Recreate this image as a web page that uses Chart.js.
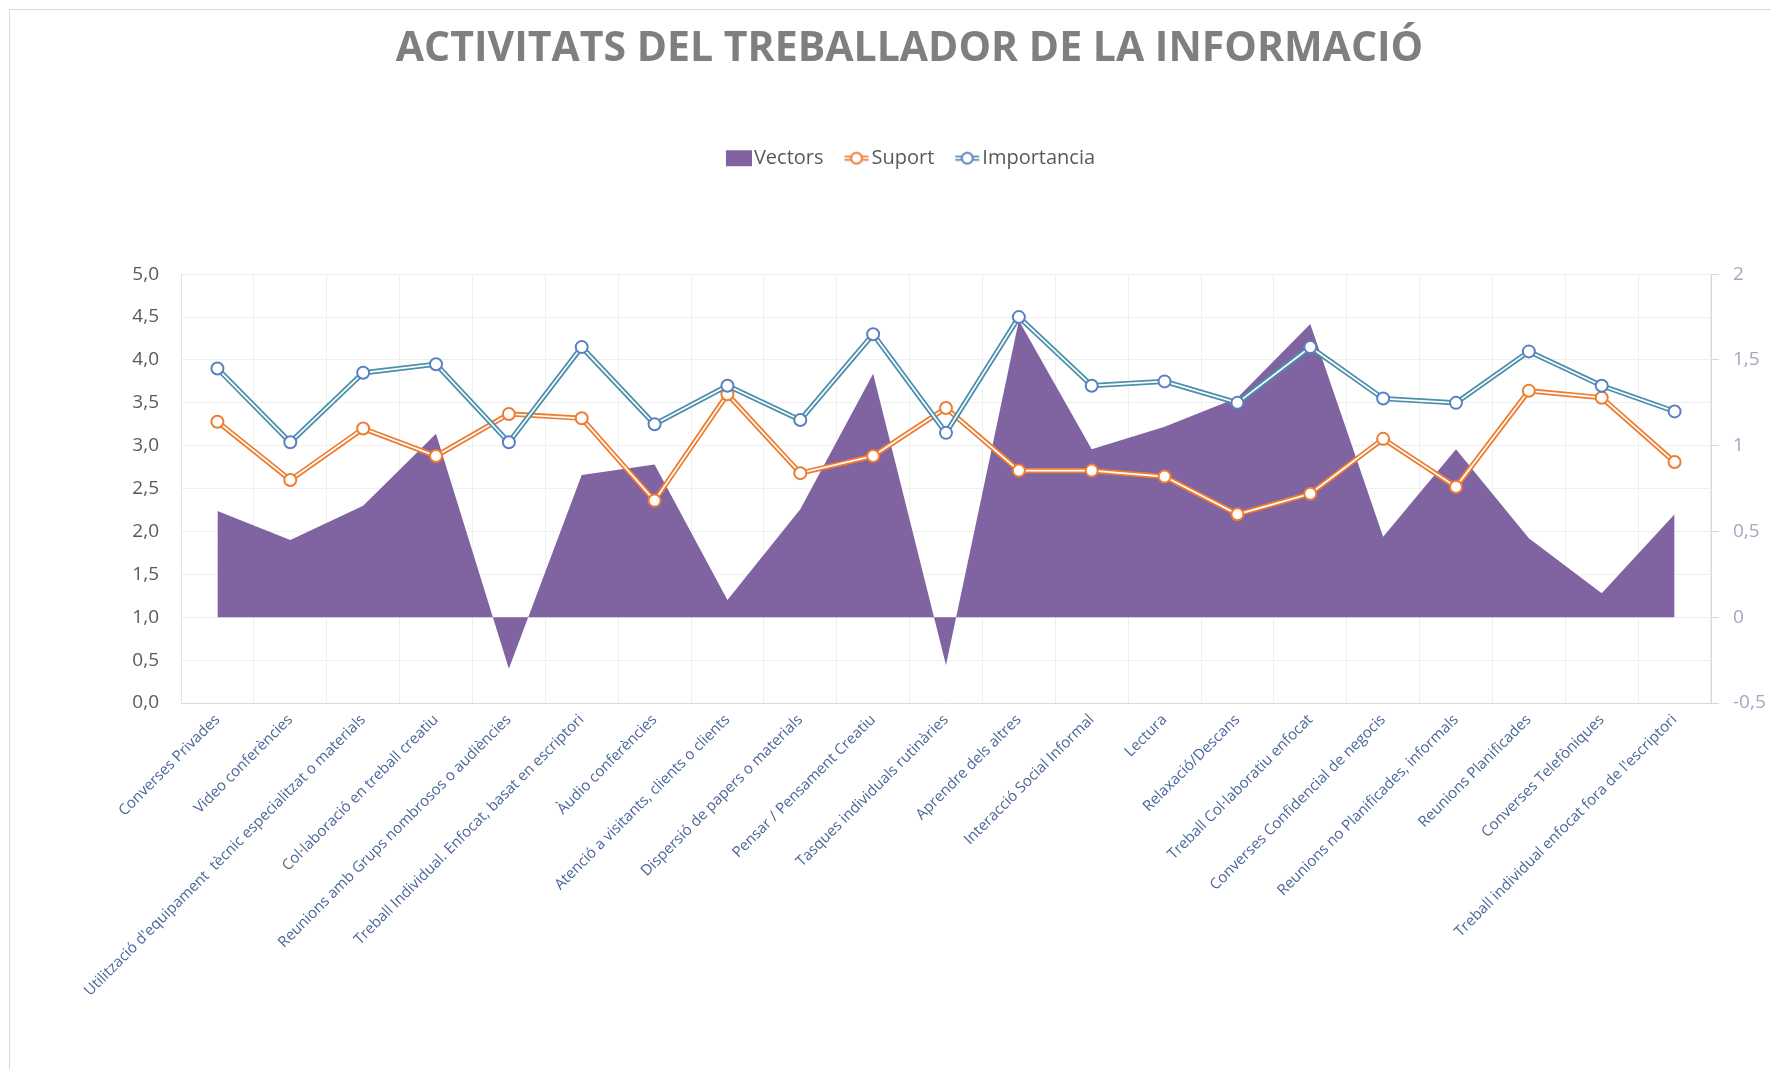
<!DOCTYPE html>
<html>
<head>
<meta charset="utf-8">
<script src="https://cdn.jsdelivr.net/npm/chart.js@4/dist/chart.umd.min.js"></script>
<style>
html,body{margin:0;padding:0;background:#fff;}
#wrap{width:1771px;height:1069px;position:relative;}
</style>
</head>
<body>
<div id="wrap"><canvas id="c" width="1771" height="1069"></canvas></div>
<script>
const categories = [
  "Converses Privades",
  "Video conferències",
  "Utilització d'equipament  tècnic especialitzat o materials",
  "Col·laboració en treball creatiu",
  "Reunions amb Grups nombrosos o audiències",
  "Treball Individual. Enfocat, basat en escriptori",
  "Àudio conferències",
  "Atenció a visitants, clients o clients",
  "Dispersió de papers o materials",
  "Pensar / Pensament Creatiu",
  "Tasques individuals rutinàries",
  "Aprendre dels altres",
  "Interacció Social Informal",
  "Lectura",
  "Relaxació/Descans",
  "Treball Col·laboratiu enfocat",
  "Converses Confidencial de negocis",
  "Reunions no Planificades, informals",
  "Reunions Planificades",
  "Converses Telefòniques",
  "Treball individual enfocat fora de l'escriptori"
];
const vectors = [0.62, 0.45, 0.65, 1.07, -0.30, 0.83, 0.89, 0.10, 0.63, 1.42, -0.28, 1.73, 0.98, 1.11, 1.28, 1.71, 0.47, 0.98, 0.46, 0.14, 0.60];
const suport = [3.28, 2.60, 3.20, 2.88, 3.37, 3.32, 2.36, 3.60, 2.68, 2.88, 3.44, 2.71, 2.71, 2.64, 2.20, 2.44, 3.08, 2.52, 3.64, 3.56, 2.81];
const importancia = [3.90, 3.04, 3.85, 3.95, 3.04, 4.15, 3.25, 3.70, 3.30, 4.30, 3.15, 4.50, 3.70, 3.75, 3.50, 4.15, 3.55, 3.50, 4.10, 3.70, 3.40];
const leftTicks = [0, 5, 0.5];
const rightTicks = [-0.5, 2, 0.5];
const seriesNames = ["Vectors", "Suport", "Importancia"];

const PURPLE = '#8064A2';
const ORANGE = '#ED7D31';
const TEAL = '#4a8fab';
const BLUE = '#5b80c2';

function symbolCanvas(kind, lineCol, markCol) {
  const bw = 20, W = bw + 16, H = 18;
  const c = document.createElement('canvas');
  c.width = W; c.height = H;
  const g = c.getContext('2d');
  const x0 = 10, x1 = W;
  if (kind === 'rect') {
    g.fillStyle = PURPLE;
    g.fillRect(x0, 1, 26, 16);
  } else {
    g.strokeStyle = lineCol; g.lineWidth = 5;
    g.beginPath(); g.moveTo(x0 + 1, 9); g.lineTo(x1 - 1, 9); g.stroke();
    g.strokeStyle = '#fff'; g.lineWidth = 1.6;
    g.beginPath(); g.moveTo(x0 + 1, 9); g.lineTo(x1 - 1, 9); g.stroke();
    g.beginPath(); g.arc((x0 + x1) / 2, 9, 5.5, 0, Math.PI * 2);
    g.fillStyle = '#fff'; g.fill();
    g.strokeStyle = markCol; g.lineWidth = 2; g.stroke();
  }
  return c;
}
const legendIcons = [
  symbolCanvas('rect'),
  symbolCanvas('line', ORANGE, ORANGE),
  symbolCanvas('line', TEAL, BLUE)
];

const bgPlugin = {
  id: 'bg',
  beforeDraw(chart) {
    const ctx = chart.ctx;
    ctx.save();
    ctx.fillStyle = '#fff';
    ctx.fillRect(0, 0, chart.width, chart.height);
    ctx.strokeStyle = '#d9d9d9';
    ctx.lineWidth = 1;
    ctx.strokeRect(9.5, 9.5, chart.width + 50, chart.height + 50);
    ctx.restore();
  }
};

function lineSet(label, data, color, width, order) {
  return { label, data, yAxisID: 'y', borderColor: color, borderWidth: width, pointRadius: 0,
    pointHoverRadius: 0, fill: false, tension: 0, order, type: 'line' };
}
function pointSet(label, data, color, order) {
  return { label, data, yAxisID: 'y', showLine: false, pointRadius: 6, pointBorderWidth: 2,
    pointBackgroundColor: '#fff', pointBorderColor: color, borderColor: color, fill: false, order, type: 'line' };
}

const datasets = [
  { label: seriesNames[0], data: vectors, yAxisID: 'y1', type: 'line', backgroundColor: PURPLE,
    borderColor: PURPLE, borderWidth: 0, pointRadius: 0, fill: 'origin', tension: 0, order: 20 },
  lineSet('_s1', suport, ORANGE, 5.2, 9),
  lineSet('_s2', suport, '#ffffff', 1.7, 8),
  pointSet(seriesNames[1], suport, ORANGE, 7),
  lineSet('_i1', importancia, TEAL, 5.2, 6),
  lineSet('_i2', importancia, '#ffffff', 1.7, 5),
  pointSet(seriesNames[2], importancia, BLUE, 4)
];

new Chart(document.getElementById('c'), {
  type: 'line',
  data: { labels: categories, datasets },
  plugins: [bgPlugin],
  options: {
    responsive: false,
    animation: false,
    events: [],
    layout: { padding: { left: 48, right: 0, top: 0, bottom: 0 } },
    plugins: {
      tooltip: { enabled: false },
      title: {
        display: true,
        text: 'ACTIVITATS DEL TREBALLADOR DE LA INFORMACIÓ',
        color: '#7f7f7f',
        font: { family: 'Open Sans', size: 41, weight: 'bold' },
        padding: { top: 25, bottom: 56 }
      },
      subtitle: {
        display: true,
        text: '',
        weight: 100,
        font: { size: 10 },
        padding: { top: 44, bottom: 40 }
      },
      legend: {
        display: true,
        labels: {
          color: '#595959',
          font: { family: 'Open Sans', size: 20 },
          usePointStyle: true,
          pointStyleWidth: 20,
          padding: 18,
          generateLabels() {
            return seriesNames.map((n, i) => ({
              text: n, pointStyle: legendIcons[i], fillStyle: 'transparent',
              strokeStyle: 'transparent', lineWidth: 0, hidden: false, datasetIndex: i, fontColor: '#595959'
            }));
          }
        }
      }
    },
    scales: {
      x: {
        offset: true,
        grid: { offset: true, color: '#efefef', drawTicks: false },
        border: { color: '#d9d9d9' },
        ticks: {
          color: '#4a6698',
          font: { family: 'Open Sans', size: 15 },
          minRotation: 45, maxRotation: 45, autoSkip: false, padding: 8
        },
        afterFit(s) { s.height = 366; }
      },
      y: {
        position: 'left',
        min: leftTicks[0], max: leftTicks[1],
        ticks: {
          stepSize: leftTicks[2], color: '#595959',
          font: { family: 'Open Sans', size: 19 }, padding: 22,
          callback: v => v.toFixed(1).replace('.', ',')
        },
        grid: { color: '#efefef', drawTicks: false },
        border: { color: '#e3e3e3' },
        afterFit(s) { s.width = 133; }
      },
      y1: {
        position: 'right',
        min: rightTicks[0], max: rightTicks[1],
        ticks: {
          stepSize: rightTicks[2], color: '#a8a4c2',
          font: { family: 'Open Sans', size: 19 }, padding: 14,
          callback: v => String(v).replace('.', ',')
        },
        grid: { drawOnChartArea: false, drawTicks: true, tickLength: 8, color: '#d9d9d9' },
        border: { color: '#d9d9d9' },
        afterFit(s) { s.width = 60; }
      }
    }
  }
});
</script>
</body>
</html>
